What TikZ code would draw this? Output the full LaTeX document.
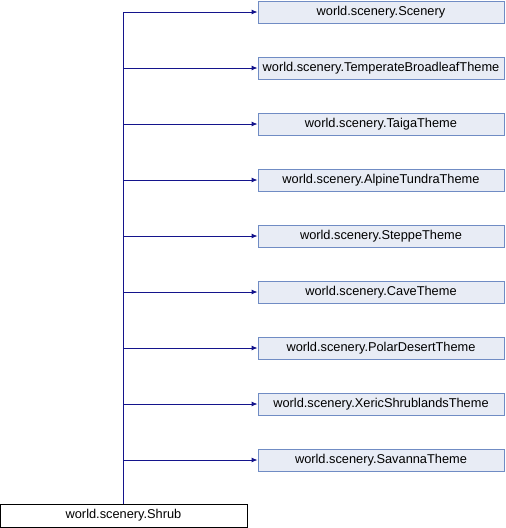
\documentclass[tikz,border=0pt]{standalone}
\usepackage{fontspec}
\setmainfont{Liberation Sans}
\usetikzlibrary{arrows.meta}
\definecolor{edgeblue}{RGB}{20,20,140}
\definecolor{boxborder}{RGB}{112,140,196}
\definecolor{boxfill}{RGB}{232,236,245}
\begin{document}
\begin{tikzpicture}[x=1pt,y=-1pt,
  classbox/.style={draw=boxborder,fill=boxfill,line width=0.9pt,minimum width=246pt,minimum height=22pt,inner sep=0pt,font=\fontsize{12.8}{15}\selectfont},
  basebox/.style={draw=black,fill=white,line width=0.9pt,minimum width=247pt,minimum height=23pt,inner sep=0pt,font=\fontsize{12.8}{15}\selectfont},
  inh/.style={draw=edgeblue,line width=0.9pt,-{Latex[length=6pt,width=5pt]}}]
\useasboundingbox (0,0) rectangle (506,528);
\node[basebox] (shrub) at (123.5,515.5) {world.scenery.Shrub};
\node[classbox] (n0) at (381,12) {world.scenery.Scenery};
\node[classbox] (n1) at (381,68) {world.scenery.TemperateBroadleafTheme};
\node[classbox] (n2) at (381,124) {world.scenery.TaigaTheme};
\node[classbox] (n3) at (381,180) {world.scenery.AlpineTundraTheme};
\node[classbox] (n4) at (381,236) {world.scenery.SteppeTheme};
\node[classbox] (n5) at (381,292) {world.scenery.CaveTheme};
\node[classbox] (n6) at (381,348) {world.scenery.PolarDesertTheme};
\node[classbox] (n7) at (381,404) {world.scenery.XericShrublandsTheme};
\node[classbox] (n8) at (381,460) {world.scenery.SavannaTheme};
\foreach \i in {0,...,8} {
  \draw[inh] (shrub.north) |- (n\i.west);
}
\end{tikzpicture}
\end{document}
